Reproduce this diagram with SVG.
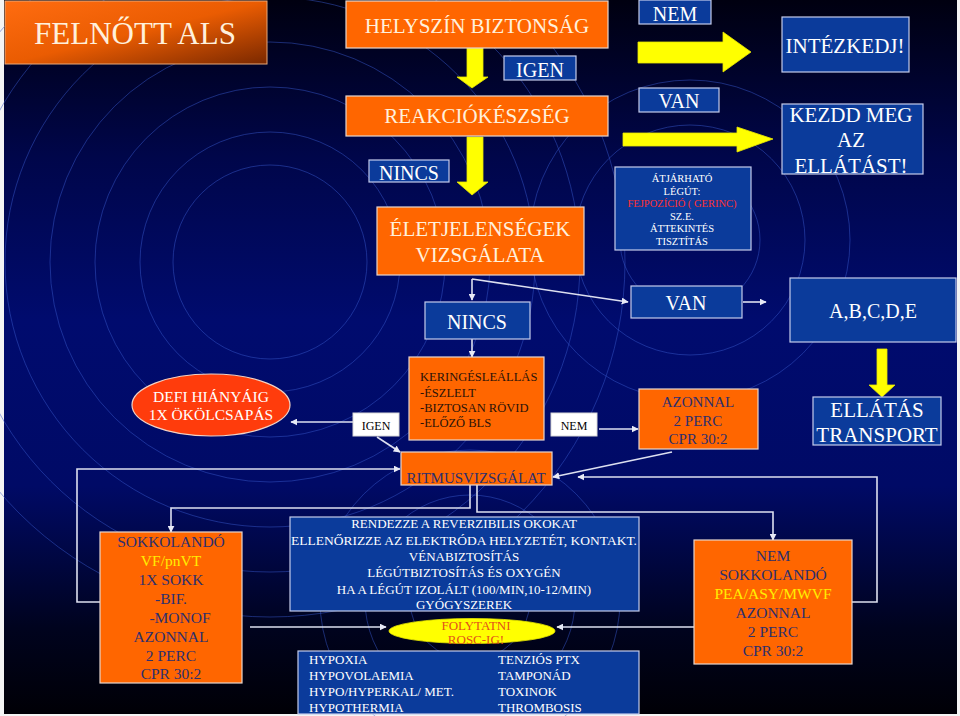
<svg xmlns="http://www.w3.org/2000/svg" width="960" height="716" viewBox="0 0 960 716">
<defs>
<linearGradient id="bg" x1="0" y1="0" x2="0" y2="1">
<stop offset="0" stop-color="#000010"/>
<stop offset="0.22" stop-color="#00064a"/>
<stop offset="0.45" stop-color="#000b6e"/>
<stop offset="0.68" stop-color="#000a66"/>
<stop offset="0.88" stop-color="#00031e"/>
<stop offset="1" stop-color="#000006"/>
</linearGradient>
<linearGradient id="tg" x1="0" y1="0" x2="1" y2="1">
<stop offset="0" stop-color="#ff6c10"/>
<stop offset="0.5" stop-color="#ea5c02"/>
<stop offset="1" stop-color="#7a2800"/>
</linearGradient>
<marker id="ah" viewBox="0 0 10 10" refX="9" refY="5" markerWidth="7" markerHeight="7" markerUnits="userSpaceOnUse" orient="auto">
<path d="M0,0 L10,5 L0,10 z" fill="#e8eaf6"/>
</marker>
<style>
.t{font-family:"Liberation Serif","Times New Roman",serif}
.o{fill:#ff6600;stroke:#e6d6ce;stroke-width:1.2}
.b{fill:#0b3b9b;stroke:#c4cceb;stroke-width:1.2}
.w{fill:#ffffff;stroke:#d8d8d8;stroke-width:1}
.cr{fill:#fff0dc}
.cw{fill:#ffffff}
.cn{fill:#2d2f6e}
.ck{fill:#2a1208}
.cy{fill:#ffee00}
.conn{stroke:#dde0f0;stroke-width:1.6;fill:none}
.ya{fill:#ffff00;stroke:#e6e600;stroke-width:0.8}
.ring{fill:none;stroke:#3556c8;stroke-width:1;opacity:0.5}
</style>
</defs>
<rect x="0" y="0" width="960" height="716" fill="#f4f4f4"/>
<rect x="4" y="0" width="953" height="714" fill="url(#bg)"/>
<g id="rings">
<circle class="ring" cx="270" cy="262" r="97"/>
<circle class="ring" cx="270" cy="262" r="130"/>
<circle class="ring" cx="270" cy="262" r="175"/>
<circle class="ring" cx="270" cy="262" r="220"/>
<circle class="ring" cx="270" cy="262" r="265"/>
<circle class="ring" cx="270" cy="262" r="310"/>
<circle class="ring" cx="270" cy="262" r="355"/>
<circle class="ring" cx="690" cy="240" r="70" opacity="0.35"/>
<circle class="ring" cx="690" cy="240" r="115" opacity="0.35"/>
<circle class="ring" cx="690" cy="240" r="160" opacity="0.35"/>
<circle class="ring" cx="470" cy="600" r="60" opacity="0.35"/>
<circle class="ring" cx="470" cy="600" r="105" opacity="0.35"/>
<circle class="ring" cx="470" cy="600" r="150" opacity="0.35"/>
</g>
<g id="connectors">
<path class="conn" d="M472,279 V300" marker-end="url(#ah)"/>
<path class="conn" d="M472,279 L628,302" marker-end="url(#ah)"/>
<path class="conn" d="M743,302 H766" marker-end="url(#ah)"/>
<path class="conn" d="M472,339 V357" marker-end="url(#ah)"/>
<path class="conn" d="M353,422 H291" marker-end="url(#ah)"/>
<path class="conn" d="M377,437 L400,452" marker-end="url(#ah)"/>
<path class="conn" d="M599,429 H638" marker-end="url(#ah)"/>
<path class="conn" d="M672,452 L553,477" marker-end="url(#ah)"/>
<path class="conn" d="M100,602 H77 V469 H400" marker-end="url(#ah)"/>
<path class="conn" d="M852,602 H877 V477 H578" marker-end="url(#ah)"/>
<path class="conn" d="M470,485 V508 H171 V532" marker-end="url(#ah)"/>
<path class="conn" d="M477,485 V512 H773 V540" marker-end="url(#ah)"/>
<path class="conn" d="M250,627 H386" marker-end="url(#ah)"/>
<path class="conn" d="M694,627 H557" marker-end="url(#ah)"/>
<polygon class="ya" points="467,48 483,48 483,77 488,77 472,88 457,77 467,77"/>
<polygon class="ya" points="467,137 483,137 483,182 488,182 472,195 457,182 467,182"/>
<polygon class="ya" points="638,42 723,42 723,32 751,52 723,72 723,63 638,63"/>
<polygon class="ya" points="623,133 737,133 737,127 773,139 737,152 737,146 623,146"/>
<polygon class="ya" points="877,349 887,349 887,385 895,385 882,397 869,385 877,385"/>
</g>
<g id="title">
<rect x="5" y="1" width="262" height="63" fill="url(#tg)" stroke="#e8a878" stroke-width="1"/>
<text class="t cr" x="135" y="44" font-size="31" text-anchor="middle">FELNŐTT ALS</text>
</g>
<g id="helyszin">
<rect class="o" x="346" y="1" width="262" height="47"/>
<text class="t cr" x="477" y="33" font-size="21" text-anchor="middle">HELYSZÍN BIZTONSÁG</text>
</g>
<g id="igen-top">
<rect class="b" x="504" y="56" width="72" height="24"/>
<text class="t cw" x="540" y="77" font-size="20" text-anchor="middle">IGEN</text>
</g>
<g id="reakcio">
<rect class="o" x="346" y="96" width="262" height="40"/>
<text class="t cr" x="477" y="123" font-size="21" text-anchor="middle">REAKCIÓKÉSZSÉG</text>
</g>
<g id="nincs-top">
<rect class="b" x="369" y="160" width="80" height="22"/>
<text class="t cw" x="409" y="180" font-size="20" text-anchor="middle">NINCS</text>
</g>
<g id="eletjel">
<rect class="o" x="377" y="207" width="207" height="68"/>
<text class="t cr" x="480" y="236" font-size="21" text-anchor="middle">ÉLETJELENSÉGEK</text>
<text class="t cr" x="480" y="262" font-size="21" text-anchor="middle">VIZSGÁLATA</text>
</g>
<g id="nem-top">
<rect class="b" x="639" y="0" width="72" height="24"/>
<text class="t cw" x="675" y="21" font-size="20" text-anchor="middle">NEM</text>
</g>
<g id="intezkedj">
<rect class="b" x="782" y="17" width="127" height="55"/>
<text class="t cw" x="845" y="53" font-size="21" text-anchor="middle">INTÉZKEDJ!</text>
</g>
<g id="van-top">
<rect class="b" x="639" y="88" width="80" height="24"/>
<text class="t cw" x="679" y="108" font-size="20" text-anchor="middle">VAN</text>
</g>
<g id="kezdd">
<rect class="b" x="782" y="104" width="141" height="70"/>
<text class="t cw" x="851" y="122" font-size="21" text-anchor="middle">KEZDD MEG</text>
<text class="t cw" x="851" y="147" font-size="21" text-anchor="middle">AZ</text>
<text class="t cw" x="851" y="173" font-size="21" text-anchor="middle">ELLÁTÁST!</text>
</g>
<g id="atjarhato">
<rect class="b" x="615" y="167" width="136" height="83"/>
<text class="t cw" x="682" y="182" font-size="10.5" text-anchor="middle">ÁTJÁRHATÓ</text>
<text class="t cw" x="682" y="194.5" font-size="10.5" text-anchor="middle">LÉGÚT:</text>
<text class="t" x="682" y="207" font-size="10.5" text-anchor="middle" fill="#ff3030">FEJPOZÍCIÓ ( GERINC)</text>
<text class="t cw" x="682" y="219.5" font-size="10.5" text-anchor="middle">SZ.E.</text>
<text class="t cw" x="682" y="232" font-size="10.5" text-anchor="middle">ÁTTEKINTÉS</text>
<text class="t cw" x="682" y="244.5" font-size="10.5" text-anchor="middle">TISZTÍTÁS</text>
</g>
<g id="nincs-mid">
<rect class="b" x="425" y="302" width="105" height="37"/>
<text class="t cw" x="477" y="329" font-size="20" text-anchor="middle">NINCS</text>
</g>
<g id="van-mid">
<rect class="b" x="631" y="286" width="111" height="32"/>
<text class="t cw" x="686" y="310" font-size="20" text-anchor="middle">VAN</text>
</g>
<g id="abcde">
<rect class="b" x="790" y="278" width="166" height="64"/>
<text class="t cw" x="873" y="318" font-size="20" text-anchor="middle">A,B,C,D,E</text>
</g>
<g id="ellatas">
<rect class="b" x="813" y="397" width="128" height="48"/>
<text class="t cw" x="877" y="417" font-size="21" text-anchor="middle">ELLÁTÁS</text>
<text class="t cw" x="877" y="442" font-size="21" text-anchor="middle">TRANSPORT</text>
</g>
<g id="defi">
<ellipse cx="211" cy="405" rx="79" ry="31" fill="#ff3c0c" stroke="#f2d2c4" stroke-width="1.2"/>
<text class="t cw" x="211" y="402" font-size="15.5" text-anchor="middle">DEFI HIÁNYÁIG</text>
<text class="t cw" x="211" y="420" font-size="15.5" text-anchor="middle">1X ÖKÖLCSAPÁS</text>
</g>
<g id="igen-mid">
<rect class="w" x="353" y="413" width="46" height="23"/>
<text class="t" x="376" y="430" font-size="12" text-anchor="middle" fill="#000">IGEN</text>
</g>
<g id="keringes">
<rect class="o" x="409" y="357" width="135" height="83"/>
<text class="t ck" x="420" y="381" font-size="12.5">KERINGÉSLEÁLLÁS</text>
<text class="t ck" x="420" y="396.5" font-size="12.5">-ÉSZLELT</text>
<text class="t ck" x="420" y="412" font-size="12.5">-BIZTOSAN RÖVID</text>
<text class="t ck" x="420" y="427" font-size="12.5">-ELŐZŐ BLS</text>
</g>
<g id="nem-mid">
<rect class="w" x="551" y="413" width="46" height="23"/>
<text class="t" x="574" y="430" font-size="12" text-anchor="middle" fill="#000">NEM</text>
</g>
<g id="azonnal">
<rect class="o" x="639" y="389" width="119" height="60"/>
<text class="t cn" x="698" y="407" font-size="15" text-anchor="middle">AZONNAL</text>
<text class="t cn" x="698" y="426" font-size="15" text-anchor="middle">2 PERC</text>
<text class="t cn" x="698" y="444" font-size="15" text-anchor="middle">CPR 30:2</text>
</g>
<g id="ritmus">
<rect class="o" x="401" y="452" width="151" height="33"/>
<text class="t cn" x="476" y="483" font-size="15" text-anchor="middle">RITMUSVIZSGÁLAT</text>
</g>
<g id="sokkolando">
<rect class="o" x="100" y="532" width="142" height="151"/>
<text class="t cn" x="171" y="547" font-size="15.5" text-anchor="middle">SOKKOLANDÓ</text>
<text class="t cy" x="171" y="566" font-size="15.5" text-anchor="middle">VF/pnVT</text>
<text class="t cn" x="171" y="585" font-size="15.5" text-anchor="middle">1X SOKK</text>
<text class="t cn" x="171" y="604" font-size="15.5" text-anchor="middle">-BIF.</text>
<text class="t cn" x="180" y="623" font-size="15.5" text-anchor="middle">-MONOF</text>
<text class="t cn" x="171" y="642" font-size="15.5" text-anchor="middle">AZONNAL</text>
<text class="t cn" x="171" y="661" font-size="15.5" text-anchor="middle">2 PERC</text>
<text class="t cn" x="171" y="679" font-size="15.5" text-anchor="middle">CPR 30:2</text>
</g>
<g id="rendezze">
<rect class="b" x="290" y="517" width="349" height="94"/>
<text class="t cw" x="464" y="528" font-size="13" text-anchor="middle">RENDEZZE A REVERZIBILIS OKOKAT</text>
<text class="t cw" x="464" y="545" font-size="13" text-anchor="middle" textLength="346" lengthAdjust="spacingAndGlyphs">ELLENŐRIZZE AZ ELEKTRÓDA HELYZETÉT, KONTAKT.</text>
<text class="t cw" x="464" y="561" font-size="13" text-anchor="middle">VÉNABIZTOSÍTÁS</text>
<text class="t cw" x="464" y="577" font-size="13" text-anchor="middle">LÉGÚTBIZTOSÍTÁS ÉS OXYGÉN</text>
<text class="t cw" x="464" y="594" font-size="13" text-anchor="middle">HA A LÉGÚT IZOLÁLT (100/MIN,10-12/MIN)</text>
<text class="t cw" x="464" y="609" font-size="13" text-anchor="middle">GYÓGYSZEREK</text>
</g>
<g id="folytatni">
<ellipse cx="472" cy="631" rx="83" ry="12.5" fill="#ffff00" stroke="#e6e600" stroke-width="0.8"/>
<text class="t" x="476" y="630" font-size="13" text-anchor="middle" fill="#e4501a">FOLYTATNI</text>
<text class="t" x="476" y="644" font-size="13" text-anchor="middle" fill="#e4501a">ROSC-IG!</text>
</g>
<g id="hypoxia">
<rect class="b" x="298" y="651" width="341" height="63"/>
<text class="t cw" x="309" y="664" font-size="13">HYPOXIA</text>
<text class="t cw" x="309" y="680" font-size="13">HYPOVOLAEMIA</text>
<text class="t cw" x="309" y="696" font-size="13">HYPO/HYPERKAL/ MET.</text>
<text class="t cw" x="309" y="712" font-size="13">HYPOTHERMIA</text>
<text class="t cw" x="498" y="664" font-size="13">TENZIÓS PTX</text>
<text class="t cw" x="498" y="680" font-size="13">TAMPONÁD</text>
<text class="t cw" x="498" y="696" font-size="13">TOXINOK</text>
<text class="t cw" x="498" y="712" font-size="13">THROMBOSIS</text>
</g>
<g id="nem-sokkolando">
<rect class="o" x="694" y="540" width="158" height="124"/>
<text class="t cn" x="773" y="561" font-size="15.5" text-anchor="middle">NEM</text>
<text class="t cn" x="773" y="580" font-size="15.5" text-anchor="middle">SOKKOLANDÓ</text>
<text class="t cy" x="773" y="599" font-size="15.5" text-anchor="middle">PEA/ASY/MWVF</text>
<text class="t cn" x="773" y="618" font-size="15.5" text-anchor="middle">AZONNAL</text>
<text class="t cn" x="773" y="637" font-size="15.5" text-anchor="middle">2 PERC</text>
<text class="t cn" x="773" y="656" font-size="15.5" text-anchor="middle">CPR 30:2</text>
</g>
</svg>
